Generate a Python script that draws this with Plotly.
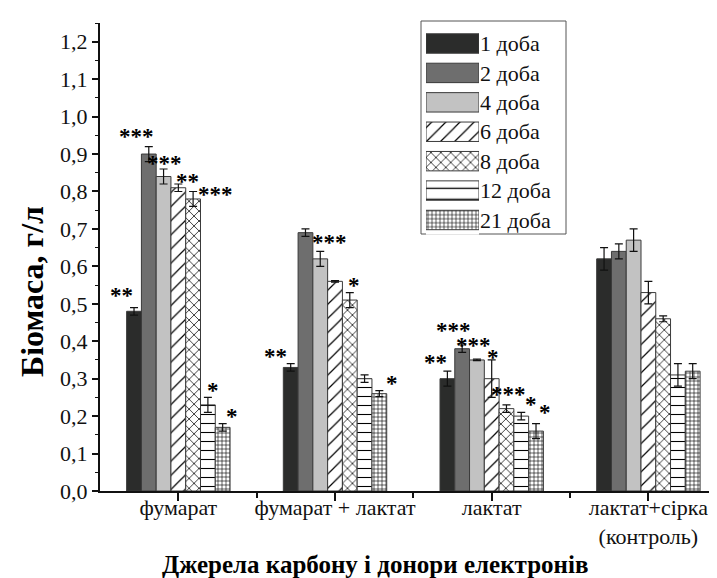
import plotly.graph_objects as go

# ---------------- data ----------------
categories = ["фумарат", "фумарат + лактат", "лактат", "лактат+сірка<br>(контроль)"]
cat_pos = [0, 1, 2, 3]
series_names = ["1 доба", "2 доба", "4 доба", "6 доба", "8 доба", "12 доба", "21 доба"]

day1 = [0.48, 0.33, 0.30, 0.62]
day2 = [0.90, 0.69, 0.38, 0.64]
day4 = [0.84, 0.62, 0.35, 0.67]
day6 = [0.81, 0.56, 0.30, 0.53]
day8 = [0.78, 0.51, 0.22, 0.46]
day12 = [0.23, 0.30, 0.20, 0.31]
day21 = [0.17, 0.26, 0.16, 0.32]

err1 = [0.01, 0.01, 0.02, 0.03]
err2 = [0.02, 0.01, 0.01, 0.02]
err4 = [0.02, 0.02, 0.002, 0.03]
err6 = [0.01, 0.002, 0.05, 0.03]
err8 = [0.02, 0.02, 0.01, 0.008]
err12 = [0.02, 0.01, 0.01, 0.03]
err21 = [0.01, 0.008, 0.02, 0.02]

star_labels = ["**", "***", "***", "**", "***", "*", "*",
               "**", "***", "*", "*",
               "***", "***", "**", "*", "***", "*", "*"]
star_x = [-0.360, -0.267, -0.088, 0.056, 0.237, 0.224, 0.341,
          0.618, 0.962, 1.123, 1.365,
          1.759, 1.884, 1.639, 2.009, 2.104, 2.250, 2.342]
star_y = [0.536, 0.961, 0.889, 0.841, 0.804, 0.283, 0.213,
          0.373, 0.677, 0.562, 0.301,
          0.443, 0.401, 0.356, 0.370, 0.272, 0.245, 0.223]

values = [day1, day2, day4, day6, day8, day12, day21]
errors = [err1, err2, err4, err6, err8, err12, err21]

# ---------------- styles ----------------
FONT = "Liberation Serif"
fills = ["#2b2c2b", "#6e6e6e", "#c2c2c2", "#000000", "#000000", "#000000", "#000000"]
bgs = ["#2b2c2b", "#6e6e6e", "#c2c2c2", "#ffffff", "#ffffff", "#ffffff", "#ffffff"]
shapes_p = ["", "", "", "/", "x", "-", "+"]
psizes = [8, 8, 8, 10, 7, 9, 4]
psolid = [0.3, 0.3, 0.3, 0.12, 0.2, 0.12, 0.28]
outline = "#3a3a3a"

fig = go.Figure()
for name, v, e, fc, bg, sh, ps, so in zip(series_names, values, errors, fills, bgs,
                                           shapes_p, psizes, psolid):
    fig.add_trace(go.Bar(
        x=cat_pos, y=v, name=name, showlegend=False,
        marker=dict(color=fc, line=dict(color=outline, width=1),
                    pattern=dict(shape=sh, size=ps, solidity=so, fgcolor="#000000",
                                 bgcolor=bg, fillmode="replace")),
        error_y=dict(type="data", array=e, visible=True, color="#111111",
                     thickness=1.2, width=4),
        xaxis="x", yaxis="y",
    ))

# custom legend (inset axes) so swatches have the same size as the original
leg_sizes = [8, 8, 8, 10, 7, 11, 4]
fig.add_trace(go.Bar(
    x=[1] * len(series_names), y=series_names, orientation="h", showlegend=False,
    marker=dict(color=fills, line=dict(color=outline, width=1),
                pattern=dict(shape=shapes_p, size=leg_sizes, solidity=psolid,
                             fgcolor="#000000", bgcolor=bgs, fillmode="replace")),
    xaxis="x2", yaxis="y2", hoverinfo="skip",
))

# ---------------- layout ----------------
W, H = 717, 578
ML, MT, MB, MR = 92, 15, 95, 0
PW, PH = W - ML - MR, H - MT - MB


def px_x(p):
    return (p - ML) / PW


def px_y(p):
    return (H - MB - p) / PH


annotations = []
for t, sx, sy in zip(star_labels, star_x, star_y):
    annotations.append(dict(x=sx, y=sy, xref="x", yref="y", text="<b>" + t + "</b>",
                            showarrow=False,
                            font=dict(family=FONT, size=23, color="#000"),
                            xanchor="center", yanchor="middle", yshift=-5))

annotations.append(dict(x=px_x(24), y=px_y(284), xref="paper", yref="paper",
                        text="<b>Біомаса, г/л</b>", textangle=-90, showarrow=False,
                        font=dict(family=FONT, size=32, color="#000"),
                        xanchor="center", yanchor="middle"))
annotations.append(dict(x=px_x(367), y=px_y(556), xref="paper", yref="paper",
                        text="<b>Джерела карбону і донори електронів</b>", showarrow=False,
                        font=dict(family=FONT, size=25, color="#000"),
                        xanchor="center", yanchor="middle"))

fig.update_layout(
    width=W, height=H,
    margin=dict(l=ML, r=MR, t=MT, b=MB, pad=0),
    paper_bgcolor="white", plot_bgcolor="white",
    barmode="group", bargap=0.34, bargroupgap=0,
    separators=", ",
    font=dict(family=FONT, size=20, color="#111"),
    xaxis=dict(
        domain=[0, 1], range=[-0.5, 3.489], tickmode="array", tickvals=cat_pos,
        ticktext=categories, ticks="outside", ticklen=8, tickwidth=1.5, tickcolor="#111",
        showline=True, linecolor="#111", linewidth=2, showgrid=False, zeroline=False,
        tickfont=dict(family=FONT, size=22, color="#111"), automargin=False,
        ticklabelstandoff=-12,
        minor=dict(tickmode="array", tickvals=[0.5, 1.5, 2.5], ticks="outside",
                   ticklen=5, tickwidth=1.5, tickcolor="#111"),
    ),
    yaxis=dict(
        domain=[0, 1], range=[0, 1.25], tick0=0, dtick=0.1, tickformat=".1f",
        ticks="outside", ticklen=6, tickwidth=1.5, tickcolor="#111",
        showline=True, linecolor="#111", linewidth=2, showgrid=False, zeroline=False,
        tickfont=dict(family=FONT, size=22, color="#111"), automargin=False,
        minor=dict(tick0=0, dtick=0.05, ticks="outside", ticklen=3, tickwidth=1.2,
                   tickcolor="#111"),
    ),
    xaxis2=dict(domain=[px_x(418), px_x(471)], range=[0, 1], anchor="y2",
                visible=False, fixedrange=True),
    yaxis2=dict(domain=[px_y(226.7), px_y(20.8)], anchor="x2", type="category",
                autorange="reversed", side="right", showline=False, showgrid=False,
                zeroline=False, ticks="", ticklabelstandoff=0,
                tickfont=dict(family=FONT, size=22, color="#111"), fixedrange=True),
    shapes=[dict(type="rect", xref="paper", yref="paper",
                 x0=px_x(413), x1=px_x(558), y0=px_y(226), y1=px_y(13),
                 line=dict(color="#555", width=1), fillcolor="white", layer="below")],
    annotations=annotations,
)

fig.write_html("out.html")
